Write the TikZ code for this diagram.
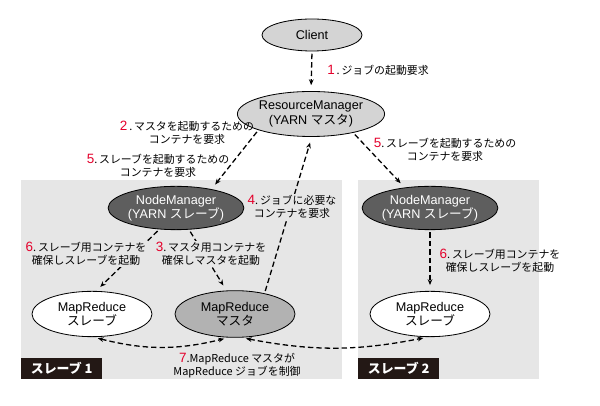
\documentclass[tikz,border=0pt]{standalone}
\usepackage{fontspec}
\setmainfont{Liberation Sans}
\newfontfamily\jp{Noto Sans CJK JP}
\usepackage{xcolor}
\usepackage{tikz}
\usetikzlibrary{arrows.meta, positioning, shapes.geometric}

\definecolor{regiongray}{HTML}{E6E6E6}
\definecolor{lightnode}{HTML}{D4D4D4}
\definecolor{midnode}{HTML}{B2B2B2}
\definecolor{darknode}{HTML}{5E5E5E}
\definecolor{tagblack}{HTML}{231815}
\definecolor{numred}{HTML}{E4002B}

\newcommand{\stepno}[1]{{\normalfont\fontsize{11.5}{11.5}\selectfont\color{numred}#1}}

\begin{document}
\begin{tikzpicture}[
  proc/.style={ellipse, draw, line width=0.7pt, minimum width=3.6cm, minimum height=1.35cm, inner sep=0pt, align=center, font=\fontsize{10.8}{12.2}\selectfont},
  yarn_master/.style={proc, fill=lightnode},
  yarn_slave/.style={proc, fill=darknode, text=white, minimum height=1.3cm},
  mr_task/.style={proc, fill=white, minimum height=1.36cm},
  mr_master/.style={proc, fill=midnode, minimum height=1.4cm},
  step_label/.style={align=center, inner sep=1pt, font=\jp\fontsize{9.3}{11.2}\selectfont},
  slave_tag/.style={fill=tagblack, text=white, minimum width=2.43cm, minimum height=0.63cm, inner sep=0pt, font=\jp\bfseries\fontsize{11}{12}\selectfont},
  flow/.style={-{Stealth[length=5pt, width=4pt]}, line width=1.1pt, dash pattern=on 4.6pt off 2.6pt, shorten >=5pt, shorten <=2pt},
  flow_both/.style={flow, {Stealth[length=5pt, width=4pt]}-{Stealth[length=5pt, width=4pt]}, shorten <=4pt, shorten >=4pt}
]
  \useasboundingbox (0,0) rectangle (18,12.18);

  % Slave machines
  \fill[regiongray] (0.63,0.81) rectangle (10.26,6.78);
  \fill[regiongray] (10.74,0.81) rectangle (16.17,6.78);
  \node[slave_tag, anchor=south west] (tag1) at (0.63,0.81) {スレーブ 1};
  \node[slave_tag, anchor=south west] (tag2) at (10.74,0.81) {スレーブ 2};

  % YARN daemons
  \node[yarn_master, minimum width=3.0cm, minimum height=0.96cm] (cl) at (9.36,11.13) {Client};
  \node[yarn_master] (rm) at (9.33,8.76) {ResourceManager\\(YARN {\jp マスタ})};
  \node[yarn_slave] (nm1) at (5.28,5.94) {NodeManager\\(YARN {\jp スレーブ})};
  \node[yarn_slave] (nm2) at (12.9,5.94) {NodeManager\\(YARN {\jp スレーブ})};

  % MapReduce processes
  \node[mr_task] (msl1) at (2.76,2.76) {MapReduce\\{\jp スレーブ}};
  \node[mr_master] (mrm) at (7.05,2.76) {MapReduce\\{\jp マスタ}};
  \node[mr_task] (msl2) at (12.9,2.76) {MapReduce\\{\jp スレーブ}};

  % Requests
  \draw[flow] (cl.south) -- (rm.north);
  \draw[flow] (rm.197) -- (nm1.28);
  \draw[flow] (rm.-24) -- (nm2.141);
  \draw[flow] (mrm.35) -- (rm.-88);
  \draw[flow] (nm1.232) -- (msl1.80);
  \draw[flow] (nm1.-59) -- (mrm.110);
  \draw[flow] (nm2.south) -- (msl2.north);

  % Job control
  \draw[flow_both] (msl1.-87) to[bend right=14] (mrm.-105);
  \draw[flow_both] (mrm.-75) to[bend right=11] (msl2.-95);

  % Step labels
  \node[step_label, anchor=west] (s1) at (9.78,10.08) {\stepno{1}\,.\,ジョブの起動要求};
  \node[step_label] (s2) at (5.61,8.19) {\stepno{2}\,.\,マスタを起動するための\\コンテナを要求};
  \node[step_label] (s5a) at (4.74,7.2) {\stepno{5}.\,スレーブを起動するための\\コンテナを要求};
  \node[step_label] (s5b) at (13.35,7.68) {\stepno{5}.\,スレーブを起動するための\\コンテナを要求};
  \node[step_label, fill=regiongray] (s4) at (8.76,5.97) {\stepno{4}.\,ジョブに必要な\\コンテナを要求};
  \node[step_label, fill=regiongray] (s6a) at (2.58,4.56) {\stepno{6}.\,スレーブ用コンテナを\\確保しスレーブを起動};
  \node[step_label, fill=regiongray] (s3) at (6.33,4.56) {\stepno{3}.\,マスタ用コンテナを\\確保しマスタを起動};
  \node[step_label] (s6b) at (15.0,4.35) {\stepno{6}.\,スレーブ用コンテナを\\確保しスレーブを起動};
  \node[step_label] (s7) at (7.11,1.2) {\stepno{7}.MapReduce マスタが\\MapReduce ジョブを制御};
\end{tikzpicture}
\end{document}
